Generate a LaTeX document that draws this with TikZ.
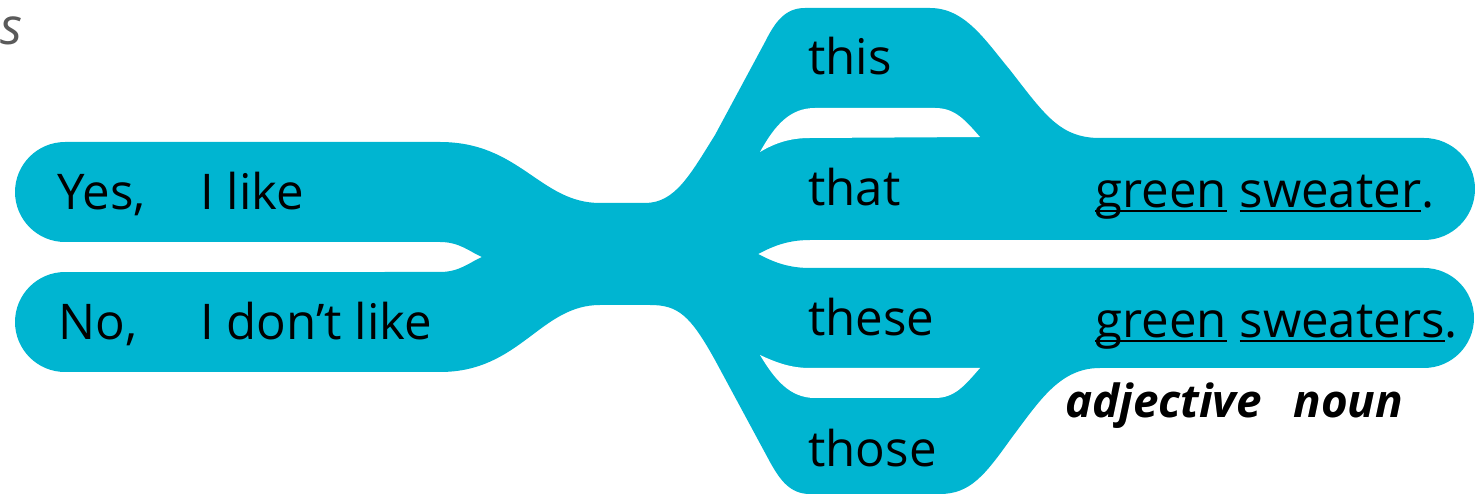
\documentclass[tikz,border=0pt]{standalone}
\usepackage{fontspec}
\setmainfont{Open Sans}
\usepackage[outline]{contour}
\usetikzlibrary{positioning}
\definecolor{fanblue}{RGB}{0,181,209}
\definecolor{notegray}{RGB}{90,90,90}
\definecolor{halogray}{RGB}{185,185,185}
\contourlength{0.7pt}
\newcommand{\ulword}[1]{\setbox0=\hbox{#1}\rlap{\rule[-2pt]{\wd0}{1.1pt}}\box0\relax}

\begin{document}
\begin{tikzpicture}[
    x=0.02cm, y=-0.02cm,
    word/.style={anchor=base west, inner sep=0pt, font=\fontsize{28}{33}\selectfont},
    tag/.style={anchor=base west, inner sep=0pt, font=\fontsize{26}{30}\selectfont\bfseries\itshape},
    hint/.style={anchor=base west, inner sep=0pt, text=notegray, font=\fontsize{29}{34}\selectfont\itshape}
]
    \useasboundingbox (0,0) rectangle (1475,496);

    % Sentence fan
    \fill[fanblue] (65,142) -- (440,142) .. controls (520,142) and (540,203) .. (600,203) -- (645,203)
        .. controls (675,203) and (690,175) .. (715,135) -- (765,42) .. controls (775,22) and (785,8) .. (805,8)
        -- (930,8) .. controls (965,8) and (985,40) .. (1010,70) .. controls (1045,115) and (1060,138) .. (1100,138)
        -- (1424,138) arc[start angle=90, end angle=-90, radius=1.02cm]
        -- (810,240) .. controls (785,240) and (770,248) .. (758,254) .. controls (770,260) and (785,268) .. (810,268)
        -- (1424,268) arc[start angle=90, end angle=-90, radius=1cm]
        -- (1100,368) .. controls (1060,368) and (1040,400) .. (1010,440) .. controls (985,475) and (970,494) .. (940,494)
        -- (810,494) .. controls (790,494) and (780,480) .. (770,462) -- (715,360)
        .. controls (690,315) and (678,305) .. (650,305) -- (600,305) .. controls (540,305) and (520,372) .. (440,372)
        -- (65,372) arc[start angle=270, end angle=90, radius=1cm]
        -- (440,272) .. controls (460,272) and (470,262) .. (482,257) .. controls (470,252) and (460,242) .. (440,242)
        -- (65,242) arc[start angle=270, end angle=90, radius=1cm] -- cycle;

    % Gaps between the fingers
    \fill[white] (760,152) .. controls (775,125) and (790,108) .. (815,108) -- (935,108)
        .. controls (955,108) and (965,120) .. (980,137) -- (810,138) .. controls (790,138) and (775,143) .. (760,152) -- cycle;
    \fill[white] (760,355) .. controls (775,362) and (790,368) .. (810,368) -- (980,368)
        .. controls (965,385) and (955,398) .. (935,398) -- (815,398) .. controls (790,398) and (775,380) .. (760,355) -- cycle;

    % Words
    \node[hint] (cut) at (0,45) {s};
    \node[word] (yes) at (57,210) {Yes,};
    \node[word] (like) at (200,210) {I like};
    \node[word] (no) at (58,340) {No,};
    \node[word] (dontlike) at (200,340) {I don’t like};

    \node[word] (this) at (808,75) {this};
    \node[word] (that) at (808,206) {that};
    \node[word] (these) at (808,336) {these};
    \node[word] (those) at (808,467) {those};

    \node[word] (single) at (1095,208) {\ulword{green} \ulword{sweater}.};
    \node[word] (plural) at (1095,338) {\ulword{green} \ulword{sweaters}.};

    \node[tag] (kinds) at (1065,418) {\contour{halogray}{adjective\hspace{18pt}noun}};
\end{tikzpicture}
\end{document}
